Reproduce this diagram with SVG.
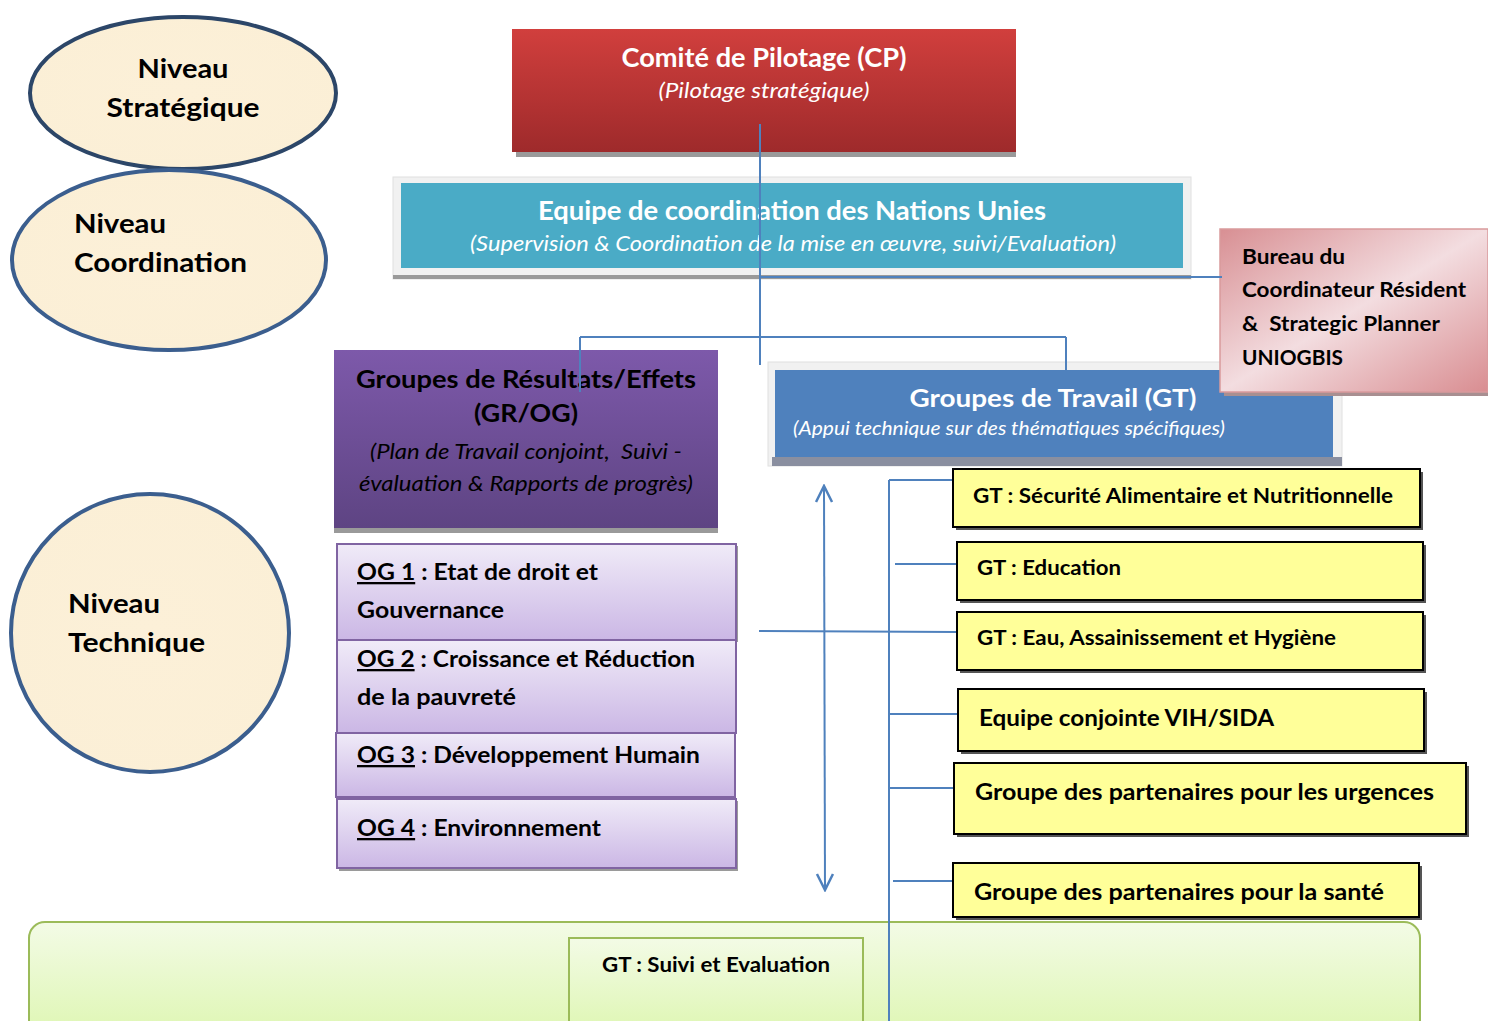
<svg xmlns="http://www.w3.org/2000/svg" width="1488" height="1021" viewBox="0 0 1488 1021">
<defs>
<linearGradient id="gRed" x1="0" y1="0" x2="0" y2="1"><stop offset="0" stop-color="#d13f3d"/><stop offset="1" stop-color="#9e2a2b"/></linearGradient>
<linearGradient id="gPur" x1="0" y1="0" x2="0" y2="1"><stop offset="0" stop-color="#7d59aa"/><stop offset="1" stop-color="#5e4483"/></linearGradient>
<linearGradient id="gOG" x1="0" y1="0" x2="0" y2="1"><stop offset="0" stop-color="#f0ebf8"/><stop offset="1" stop-color="#cbb7e5"/></linearGradient>
<linearGradient id="gPink" x1="0" y1="0" x2="1" y2="1"><stop offset="0" stop-color="#d88f93"/><stop offset="0.5" stop-color="#f3dde0"/><stop offset="1" stop-color="#d98d91"/></linearGradient>
<linearGradient id="gGreen" x1="0" y1="0" x2="0" y2="1"><stop offset="0" stop-color="#f3fbe6"/><stop offset="1" stop-color="#ddf6b0"/></linearGradient>
<radialGradient id="gCream" cx="0.5" cy="0.5" r="0.6"><stop offset="0" stop-color="#fcf0d8"/><stop offset="1" stop-color="#fbefd6"/></radialGradient>
<marker id="arr" viewBox="0 0 20 20" refX="18" refY="10" markerWidth="20" markerHeight="20" markerUnits="userSpaceOnUse" orient="auto-start-reverse"><path d="M2,2 L18,10 L2,18" fill="none" stroke="#4f81bd" stroke-width="2.5"/></marker>
</defs>
<style>
.t{font-family:Lato,"Open Sans","Liberation Sans",sans-serif;font-weight:bold}
.i{font-family:Lato,"Open Sans","Liberation Sans",sans-serif;font-style:italic;font-weight:normal}
.w{fill:#ffffff}
.k{fill:#000000}
.pre{white-space:pre}
.og{fill:url(#gOG);stroke:#8064a2;stroke-width:2}
.y{fill:#ffff99;stroke:#000000;stroke-width:2}
.sh{fill:#9a9a9a}
.ln{stroke:#4f81bd;stroke-width:2;fill:none}
.el{fill:url(#gCream)}
</style>
<rect width="1488" height="1021" fill="#ffffff"/>

<g id="ellipses">
<g id="niveau-strategique">
<ellipse cx="183" cy="93" rx="153" ry="76" class="el" stroke="#2c4668" stroke-width="4"/>
<text class="t k" font-size="27" x="183" y="78" text-anchor="middle" textLength="91" lengthAdjust="spacingAndGlyphs">Niveau</text>
<text class="t k" font-size="27" x="183" y="117" text-anchor="middle" textLength="153" lengthAdjust="spacingAndGlyphs">Stratégique</text>
</g>
<g id="niveau-coordination">
<ellipse cx="169" cy="260" rx="157" ry="90" class="el" stroke="#3b5e8e" stroke-width="4"/>
<text class="t k" font-size="27" x="74" y="233" textLength="92" lengthAdjust="spacingAndGlyphs">Niveau</text>
<text class="t k" font-size="27" x="74" y="272" textLength="173" lengthAdjust="spacingAndGlyphs">Coordination</text>
</g>
<g id="niveau-technique">
<circle cx="150" cy="633" r="139" class="el" stroke="#3b5e8e" stroke-width="4"/>
<text class="t k" font-size="27" x="68" y="613" textLength="92" lengthAdjust="spacingAndGlyphs">Niveau</text>
<text class="t k" font-size="27" x="68" y="652" textLength="137" lengthAdjust="spacingAndGlyphs">Technique</text>
</g>
</g>

<g id="cp">
<rect x="516" y="34" width="500" height="123" class="sh"/>
<rect x="512" y="29" width="504" height="123" fill="url(#gRed)"/>
<text class="t w" font-size="26" x="764" y="67" text-anchor="middle" textLength="285" lengthAdjust="spacingAndGlyphs">Comité de Pilotage (CP)</text>
<text class="i w" font-size="21" x="764" y="98" text-anchor="middle" textLength="211" lengthAdjust="spacingAndGlyphs">(Pilotage stratégique)</text>
</g>

<g id="ecnu">
<rect x="393" y="177" width="798" height="102" fill="#f1f1f1" stroke="#e0e0e0" stroke-width="1"/>
<rect x="393" y="275" width="798" height="4" class="sh"/>
<rect x="401" y="183" width="782" height="85" fill="#4aabc6"/>
<text class="t w" font-size="26" x="792" y="220" text-anchor="middle" textLength="508" lengthAdjust="spacingAndGlyphs">Equipe de coordination des Nations Unies</text>
<text class="i w" font-size="21" x="793" y="251" text-anchor="middle" textLength="646" lengthAdjust="spacingAndGlyphs">(Supervision &amp; Coordination de la mise en œuvre, suivi/Evaluation)</text>
</g>

<g id="grog">
<rect x="334" y="355" width="384" height="178" class="sh"/>
<rect x="334" y="350" width="384" height="178" fill="url(#gPur)"/>
<text class="t k" font-size="25" x="526" y="388" text-anchor="middle" textLength="340" lengthAdjust="spacingAndGlyphs">Groupes de Résultats/Effets</text>
<text class="t k" font-size="25" x="526" y="422" text-anchor="middle" textLength="104" lengthAdjust="spacingAndGlyphs">(GR/OG)</text>
<text class="i k pre" xml:space="preserve" font-size="21" x="526" y="459" text-anchor="middle" textLength="312" lengthAdjust="spacingAndGlyphs">(Plan de Travail conjoint,  Suivi -</text>
<text class="i k" font-size="21" x="526" y="491" text-anchor="middle" textLength="334" lengthAdjust="spacingAndGlyphs">évaluation &amp; Rapports de progrès)</text>
</g>

<g id="gt">
<rect x="768" y="362" width="574" height="104" fill="#f1f1f1" stroke="#e0e0e0" stroke-width="1"/>
<rect x="772" y="457" width="570" height="9" fill="#8a8fa0"/>
<rect x="775" y="370" width="558" height="87" fill="#4f81bd"/>
<text class="t w" font-size="25" x="1053" y="407" text-anchor="middle" textLength="287" lengthAdjust="spacingAndGlyphs">Groupes de Travail (GT)</text>
<text class="i w" font-size="19" x="793" y="435" textLength="432" lengthAdjust="spacingAndGlyphs">(Appui technique sur des thématiques spécifiques)</text>
</g>

<g id="bureau">
<rect x="1224" y="233" width="264" height="163" fill="#a88f91"/>
<rect x="1220" y="229" width="268" height="163" fill="url(#gPink)" stroke="#d99a9c" stroke-width="1.5"/>
<text class="t k" font-size="20" x="1242" y="264" textLength="103" lengthAdjust="spacingAndGlyphs">Bureau du</text>
<text class="t k" font-size="20" x="1242" y="297" textLength="224" lengthAdjust="spacingAndGlyphs">Coordinateur Résident</text>
<text class="t k pre" xml:space="preserve" font-size="20" x="1242" y="331" textLength="198" lengthAdjust="spacingAndGlyphs">&amp;  Strategic Planner</text>
<text class="t k" font-size="20" x="1242" y="365" textLength="101" lengthAdjust="spacingAndGlyphs">UNIOGBIS</text>
</g>

<g id="og1">
<rect x="339" y="546" width="399" height="96" class="sh"/>
<rect x="337" y="544" width="399" height="96" class="og"/>
<text class="t k" font-size="23" x="357" y="580" textLength="241" lengthAdjust="spacingAndGlyphs"><tspan text-decoration="underline">OG 1</tspan> : Etat de droit et</text>
<text class="t k" font-size="23" x="357" y="618" textLength="147" lengthAdjust="spacingAndGlyphs">Gouvernance</text>
</g>
<g id="og2">
<rect x="337" y="640" width="399" height="93" class="og"/>
<text class="t k" font-size="23" x="357" y="667" textLength="338" lengthAdjust="spacingAndGlyphs"><tspan text-decoration="underline">OG 2</tspan> : Croissance et Réduction</text>
<text class="t k" font-size="23" x="357" y="705" textLength="159" lengthAdjust="spacingAndGlyphs">de la pauvreté</text>
</g>
<g id="og3">
<rect x="336" y="733" width="399" height="64" class="og"/>
<text class="t k" font-size="23" x="357" y="763" textLength="343" lengthAdjust="spacingAndGlyphs"><tspan text-decoration="underline">OG 3</tspan> : Développement Humain</text>
</g>
<g id="og4">
<rect x="339" y="801" width="399" height="70" class="sh"/>
<rect x="337" y="799" width="399" height="69" class="og"/>
<text class="t k" font-size="23" x="357" y="836" textLength="244" lengthAdjust="spacingAndGlyphs"><tspan text-decoration="underline">OG 4</tspan> : Environnement</text>
</g>

<g id="se">
<rect x="29" y="922" width="1391" height="120" rx="16" fill="url(#gGreen)" stroke="#9bbb59" stroke-width="2"/>
<rect x="569" y="938" width="294" height="100" fill="url(#gGreen)" stroke="#9bbb59" stroke-width="2"/>
<text class="t k" font-size="20" x="716" y="972" text-anchor="middle" textLength="228" lengthAdjust="spacingAndGlyphs">GT : Suivi et Evaluation</text>
</g>

<g id="connectors">
<line x1="760" y1="124" x2="760" y2="365" class="ln"/>
<line x1="760" y1="277" x2="1222" y2="277" class="ln"/>
<line x1="580" y1="337" x2="1066" y2="337" class="ln"/>
<line x1="580" y1="337" x2="580" y2="392" class="ln"/>
<line x1="1066" y1="337" x2="1066" y2="370" class="ln"/>
<line x1="824" y1="486" x2="825" y2="890" class="ln" stroke-width="2.5" marker-start="url(#arr)" marker-end="url(#arr)"/>
<line x1="889" y1="480" x2="889" y2="1021" class="ln"/>
<line x1="889" y1="480" x2="953" y2="480" class="ln"/>
<line x1="895" y1="564" x2="957" y2="564" class="ln"/>
<line x1="759" y1="631" x2="957" y2="632" class="ln"/>
<line x1="889" y1="714" x2="958" y2="714" class="ln"/>
<line x1="889" y1="788" x2="954" y2="788" class="ln"/>
<line x1="893" y1="881" x2="953" y2="881" class="ln"/>
</g>

<g id="y1">
<rect x="956" y="472" width="467" height="58" fill="#555"/>
<rect x="953" y="469" width="467" height="58" class="y"/>
<text class="t k" font-size="20" x="973" y="503" textLength="420" lengthAdjust="spacingAndGlyphs">GT : Sécurité Alimentaire et Nutritionnelle</text>
</g>
<g id="y2">
<rect x="960" y="545" width="466" height="58" fill="#555"/>
<rect x="957" y="542" width="466" height="58" class="y"/>
<text class="t k" font-size="20" x="977" y="575" textLength="144" lengthAdjust="spacingAndGlyphs">GT : Education</text>
</g>
<g id="y3">
<rect x="960" y="615" width="466" height="58" fill="#555"/>
<rect x="957" y="612" width="466" height="58" class="y"/>
<text class="t k" font-size="20" x="977" y="645" textLength="359" lengthAdjust="spacingAndGlyphs">GT : Eau, Assainissement et Hygiène</text>
</g>
<g id="y4">
<rect x="961" y="692" width="466" height="62" fill="#555"/>
<rect x="958" y="689" width="466" height="62" class="y"/>
<text class="t k" font-size="22" x="979" y="726" textLength="295" lengthAdjust="spacingAndGlyphs">Equipe conjointe VIH/SIDA</text>
</g>
<g id="y5">
<rect x="957" y="766" width="512" height="71" fill="#555"/>
<rect x="954" y="763" width="512" height="71" class="y"/>
<text class="t k" font-size="22" x="975" y="800" textLength="459" lengthAdjust="spacingAndGlyphs">Groupe des partenaires pour les urgences</text>
</g>
<g id="y6">
<rect x="956" y="866" width="466" height="54" fill="#555"/>
<rect x="953" y="863" width="466" height="54" class="y"/>
<text class="t k" font-size="22" x="974" y="900" textLength="410" lengthAdjust="spacingAndGlyphs">Groupe des partenaires pour la santé</text>
</g>
</svg>
